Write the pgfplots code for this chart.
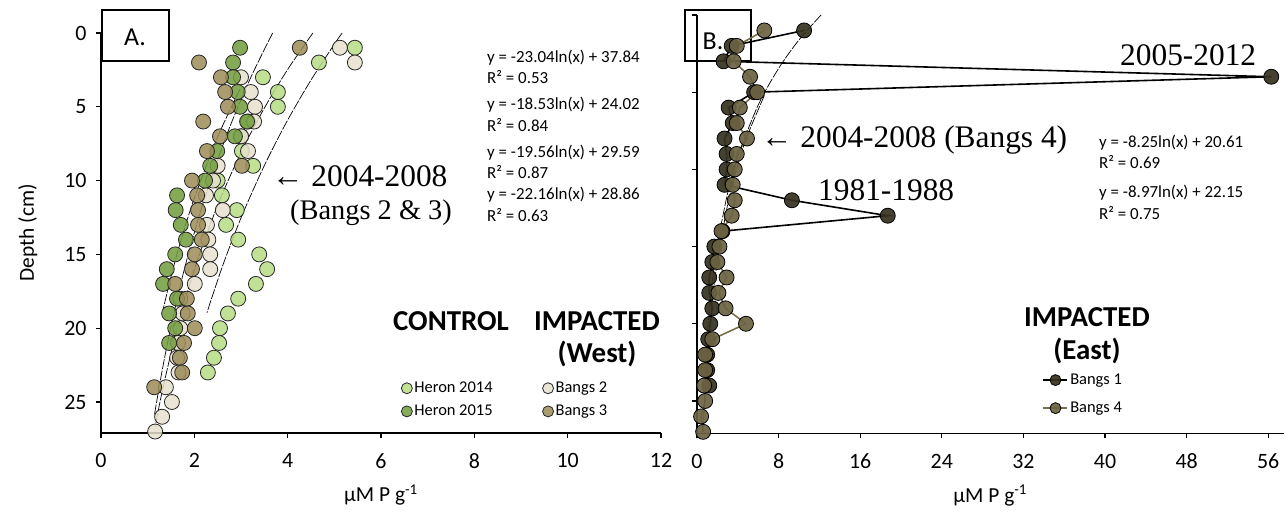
\documentclass[border=0pt]{standalone}
\usepackage{fontspec}
\setmainfont{Carlito}
\newfontfamily\tnr{Liberation Serif}
\usepackage{pgfplots}
\pgfplotsset{compat=1.18}
\definecolor{hA}{HTML}{B5DC84}
\definecolor{hB}{HTML}{709C3C}
\definecolor{bB}{HTML}{E6E1CC}
\definecolor{bC}{HTML}{9C8C57}
\definecolor{bA}{HTML}{35311F}
\definecolor{bD}{HTML}{6B6342}
\definecolor{bDl}{HTML}{777049}
\pgfplotsset{
 base/.style={
   scale only axis, axis x line*=bottom, axis y line*=left,
   axis line style={line width=1.6bp, black},
   tick align=outside, major tick length=5bp,
   every tick/.style={black, line width=1.3bp},
   tick label style={font=\fontsize{22}{24}\selectfont},
   label style={font=\fontsize{21.5}{24}\selectfont},
   xticklabel style={yshift=-12bp},
   yticklabel style={xshift=-6bp},
   xlabel style={yshift=-9bp},
   ylabel style={yshift=20bp},
   /pgf/number format/assume math mode=true,
   clip=false,
   y filter/.expression={-y},
   ymin=-27.1, ymax=0, ytick={-25,-20,-15,-10,-5,0},
   legend cell align=left,
 },
 pts/.style={only marks, mark=*, mark size=7.5bp,
   mark options={draw=black!85, line width=0.8bp, fill=#1, fill opacity=0.85},
   legend image code/.code={\draw[##1, mark size=5.5bp] plot coordinates {(0bp,0bp)};}},
 ln/.style n args={2}{color=#1, line width=1.6bp, mark=*, mark size=7.5bp,
   mark options={draw=black, line width=0.8bp, fill=#2, solid, fill opacity=0.92},
   legend image code/.code={\draw[mark repeat=2,mark phase=2,##1, mark size=5.5bp] plot coordinates {(0bp,0bp)(12bp,0bp)(24bp,0bp)};}},
 trend/.style={black, line width=0.7bp, dash pattern=on 10bp off 1.5bp, smooth, no marks, forget plot},
}
\begin{document}
\begin{tikzpicture}[x=1bp,y=1bp]
\path[use as bounding box] (0,0) rectangle (1286,514);
\draw[line width=1.2bp, fill=white] (102,453) rectangle (169,504);
\node[font=\fontsize{26}{28}\selectfont] at (135,477) {A.};
\draw[line width=1.2bp, fill=white] (685,453) rectangle (751,504);
\node[font=\fontsize{26}{28}\selectfont] at (713,473) {B.};

\begin{axis}[base, at={(101bp,81bp)}, anchor=south west, width=560bp, height=400bp,
  xmin=0, xmax=12, xtick={0,2,4,6,8,10,12},
  yticklabels={25,20,15,10,5,0},
  xlabel={µM P g\textsuperscript{-1}}, ylabel={Depth (cm)},
  legend columns=2,
  legend style={draw=none, fill=none, at={(axis description cs:0.536,0.1325)}, anchor=north west,
    font=\fontsize{16.5}{18}\selectfont, inner sep=0pt, row sep=7bp,
    /tikz/every even column/.append style={column sep=48bp}},
]
\addplot[pts=hA] coordinates {(5.44,1)(4.67,2)(3.47,3)(3.79,4)(3.79,5)(3.15,6)(3.0,7)(3.02,8)(3.26,9)(2.5,10)(2.59,11)(2.91,12)(2.68,13)(2.94,14)(3.39,15)(3.56,16)(3.32,17)(2.94,18)(2.72,19)(2.55,20)(2.53,21)(2.42,22)(2.29,23)};
\addlegendentry{Heron 2014}
\addplot[pts=bB] coordinates {(5.12,1)(5.44,2)(3.0,3)(3.21,4)(3.30,5)(3.28,6)(3.0,7)(3.15,8)(2.5,9)(2.40,10)(2.25,11)(2.61,12)(2.27,13)(2.3,14)(2.34,15)(2.34,16)(2.01,17)(1.7,18)(1.75,19)(1.7,20)(1.65,21)(1.63,22)(1.66,23)(1.39,24)(1.52,25)(1.31,26)(1.16,27)};
\addlegendentry{Bangs 2}
\addplot[pts=hB] coordinates {(2.98,1)(2.83,2)(2.83,3)(2.93,4)(2.98,5)(3.13,6)(2.87,7)(2.49,8)(2.34,9)(2.23,10)(1.63,11)(1.60,12)(1.71,13)(1.82,14)(1.59,15)(1.41,16)(1.33,17)(1.63,18)(1.46,19)(1.59,20)(1.46,21)};
\addlegendentry{Heron 2015}
\addplot[pts=bC] coordinates {(4.26,1)(2.10,2)(2.57,3)(2.66,4)(2.72,5)(2.19,6)(2.55,7)(2.27,8)(3.02,9)(1.95,10)(2.06,11)(2.08,12)(2.08,13)(2.16,14)(2.01,15)(1.95,16)(1.59,17)(1.84,18)(1.86,19)(2.01,20)(1.78,21)(1.69,22)(1.74,23)(1.14,24)};
\addlegendentry{Bangs 3}
% trendlines
\addplot[trend] coordinates {(5.168,0)(5.0,0.76)(4.5,3.19)(4.0,5.90)(3.5,8.98)(3.0,12.53)(2.6,15.83)(2.27,18.95)};
\addplot[trend] coordinates {(2.98,3.79)(2.5,7.04)(2.0,11.18)(1.7,14.19)(1.5,16.51)(1.33,18.74)};
\addplot[trend] coordinates {(4.54,0)(4.0,2.47)(3.5,5.09)(3.0,8.10)(2.5,11.67)(2.0,16.03)(1.6,20.40)(1.3,24.46)(1.16,26.69)};
\addplot[trend] coordinates {(3.678,0)(3.2,3.08)(2.7,6.85)(2.2,11.39)(1.8,15.83)(1.5,19.87)(1.3,23.05)(1.14,25.96)};
\end{axis}

\begin{axis}[base, at={(697bp,80.6bp)}, anchor=south west, width=586.5bp, height=418.4bp,
  xmin=0, xmax=57.5, xtick={0,8,16,24,32,40,48,56},
  yticklabels={},
  xlabel={µM P g\textsuperscript{-1}},
  legend style={draw=none, fill=none, at={(axis description cs:0.589,0.147)}, anchor=north west,
    font=\fontsize{16.5}{18}\selectfont, inner sep=0pt, row sep=12bp},
]
\addplot[ln={black}{bA}] coordinates {(10.5,1)(3.4,2)(2.6,3)(56.3,4)(5.6,5)(3.1,6)(3.5,7)(2.7,8)(2.9,9)(2.9,10)(2.7,11)(9.3,12)(18.7,13)(2.5,14)(1.7,15)(1.5,16)(1.2,17)(1.2,18)(1.5,19)(1.3,20)(1.1,21)(1.0,22)(1.0,23)(1.2,24)};
\addlegendentry{Bangs 1}
\addplot[ln={bDl}{bD}] coordinates {(6.6,1)(3.9,2)(3.6,3)(5.2,4)(5.9,5)(4.2,6)(3.9,7)(4.9,8)(3.9,9)(3.7,10)(3.5,11)(3.7,12)(3.4,13)(2.4,14)(2.2,15)(2.0,16)(2.9,17)(2.1,18)(2.8,19)(4.8,20)(1.5,21)(0.8,22)(0.8,23)(0.7,24)(0.8,25)(0.4,26)(0.6,27)};
\addlegendentry{Bangs 4}
\addplot[trend] coordinates {(12.16,0)(10,1.61)(8,3.46)(6,5.83)(4,9.17)(3,11.55)(2,14.89)(1.5,17.27)(1.0,20.61)};
\addplot[trend] coordinates {(6.6,5.22)(5,7.71)(4,9.72)(3,12.30)(2,15.93)(1.5,18.51)(1.0,22.15)(0.8,24.15)(0.576,27.1)};
\end{axis}

% equations
\begin{scope}[every node/.style={anchor=west, inner sep=0pt, font=\fontsize{17}{19}\selectfont}]
\node at (487,456) {y = -23.04ln(x) + 37.84};
\node at (487,437) {R² = 0.53};
\node at (487,409) {y = -18.53ln(x) + 24.02};
\node at (487,389) {R² = 0.84};
\node at (487,361) {y = -19.56ln(x) + 29.59};
\node at (487,342) {R² = 0.87};
\node at (487,319) {y = -22.16ln(x) + 28.86};
\node at (487,299) {R² = 0.63};
\node at (1099,371) {y = -8.25ln(x) + 20.61};
\node at (1099,352) {R² = 0.69};
\node at (1099,321) {y = -8.97ln(x) + 22.15};
\node at (1099,301) {R² = 0.75};
\end{scope}
% annotations
\begin{scope}[every node/.style={anchor=west, inner sep=0pt, font=\tnr\fontsize{31.5}{34}\selectfont}]
\node at (272,338) {← 2004-2008};
\node[font=\tnr\fontsize{28.5}{32}\selectfont] at (290,301) {(Bangs 2 \& 3)};
\node at (761,374) {← 2004-2008 (Bangs 4)};
\node at (818,324) {1981-1988};
\node at (1120,459) {2005-2012};
\end{scope}
% headers
\begin{scope}[every node/.style={inner sep=0pt, font=\bfseries\fontsize{29}{30}\selectfont}]
\node at (451,193) {CONTROL};
\node at (597,193) {IMPACTED};
\node at (597,160) {(West)};
\node at (1087,197) {IMPACTED};
\node at (1087,163) {(East)};
\end{scope}
\end{tikzpicture}
\end{document}
